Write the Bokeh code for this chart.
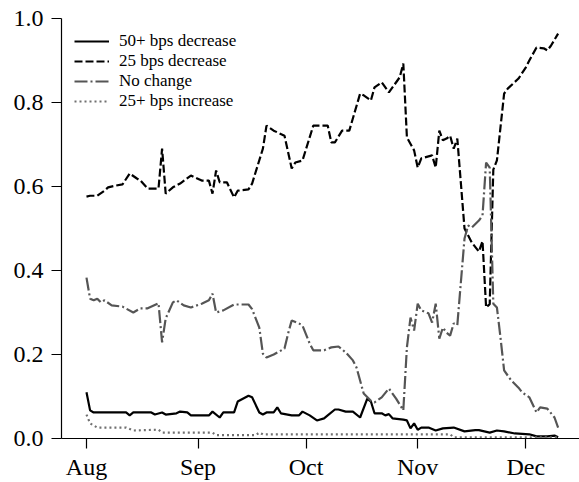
import pandas as pd
from bokeh.plotting import figure
from bokeh.models import (Range1d, FixedTicker, PrintfTickFormatter, MonthsTicker,
                          DatetimeTickFormatter, Legend, LegendItem)
from bokeh.embed import file_html
from bokeh.resources import INLINE

# Implied probabilities of the policy-rate outcome at the December meeting
cut50_dates = ["2024-08-01", "2024-08-02", "2024-08-03", "2024-08-12", "2024-08-13", "2024-08-14",
               "2024-08-19", "2024-08-20", "2024-08-22", "2024-08-23", "2024-08-26", "2024-08-27",
               "2024-08-29", "2024-08-30", "2024-09-04", "2024-09-05", "2024-09-07", "2024-09-08",
               "2024-09-11", "2024-09-12", "2024-09-15", "2024-09-16", "2024-09-18", "2024-09-19",
               "2024-09-20", "2024-09-22", "2024-09-23", "2024-09-24", "2024-09-27", "2024-09-29",
               "2024-09-30", "2024-10-02", "2024-10-04", "2024-10-06", "2024-10-07", "2024-10-09",
               "2024-10-10", "2024-10-12", "2024-10-14", "2024-10-16", "2024-10-18", "2024-10-19",
               "2024-10-20", "2024-10-22", "2024-10-23", "2024-10-24", "2024-10-25", "2024-10-28",
               "2024-10-29", "2024-10-30", "2024-10-31", "2024-11-01", "2024-11-02", "2024-11-04",
               "2024-11-06", "2024-11-08", "2024-11-11", "2024-11-14", "2024-11-17", "2024-11-18",
               "2024-11-21", "2024-11-23", "2024-11-25", "2024-11-28", "2024-12-02", "2024-12-04",
               "2024-12-07", "2024-12-09", "2024-12-10"]
cut50_prob = [0.110, 0.067, 0.062, 0.062, 0.055, 0.062,
              0.062, 0.057, 0.062, 0.057, 0.060, 0.064,
              0.062, 0.055, 0.055, 0.064, 0.050, 0.062,
              0.062, 0.088, 0.102, 0.098, 0.062, 0.057,
              0.062, 0.062, 0.074, 0.060, 0.055, 0.055,
              0.064, 0.055, 0.043, 0.048, 0.055, 0.069,
              0.069, 0.064, 0.064, 0.050, 0.095, 0.088,
              0.060, 0.060, 0.055, 0.058, 0.048, 0.045,
              0.043, 0.024, 0.036, 0.021, 0.026, 0.026,
              0.019, 0.024, 0.026, 0.017, 0.020, 0.020,
              0.014, 0.019, 0.017, 0.012, 0.010, 0.005,
              0.005, 0.007, 0.003]

cut25_dates = ["2024-08-01", "2024-08-02", "2024-08-04", "2024-08-06", "2024-08-07", "2024-08-09",
               "2024-08-11", "2024-08-13", "2024-08-15", "2024-08-16", "2024-08-18", "2024-08-21",
               "2024-08-22", "2024-08-23", "2024-08-25", "2024-08-27", "2024-08-30", "2024-09-02",
               "2024-09-04", "2024-09-05", "2024-09-06", "2024-09-07", "2024-09-09", "2024-09-11",
               "2024-09-12", "2024-09-15", "2024-09-16", "2024-09-19", "2024-09-20", "2024-09-22",
               "2024-09-25", "2024-09-27", "2024-09-28", "2024-09-30", "2024-10-03", "2024-10-07",
               "2024-10-08", "2024-10-09", "2024-10-11", "2024-10-13", "2024-10-16", "2024-10-17",
               "2024-10-19", "2024-10-20", "2024-10-22", "2024-10-24", "2024-10-27", "2024-10-28",
               "2024-10-29", "2024-10-31", "2024-11-01", "2024-11-02", "2024-11-05", "2024-11-06",
               "2024-11-07", "2024-11-08", "2024-11-09", "2024-11-10", "2024-11-11", "2024-11-12",
               "2024-11-14", "2024-11-16", "2024-11-18", "2024-11-19", "2024-11-20", "2024-11-21",
               "2024-11-22", "2024-11-23", "2024-11-25", "2024-11-26", "2024-11-29", "2024-12-01",
               "2024-12-02", "2024-12-04", "2024-12-06", "2024-12-07", "2024-12-08", "2024-12-10"]
cut25_prob = [0.576, 0.578, 0.578, 0.590, 0.598, 0.602,
              0.605, 0.631, 0.619, 0.614, 0.595, 0.595,
              0.690, 0.583, 0.598, 0.607, 0.626, 0.614,
              0.614, 0.583, 0.638, 0.610, 0.610, 0.574,
              0.590, 0.593, 0.607, 0.690, 0.745, 0.733,
              0.721, 0.643, 0.657, 0.662, 0.745, 0.745,
              0.705, 0.705, 0.733, 0.733, 0.821, 0.817,
              0.805, 0.836, 0.848, 0.824, 0.860, 0.893,
              0.717, 0.686, 0.645, 0.667, 0.674, 0.645,
              0.733, 0.710, 0.714, 0.721, 0.690, 0.714,
              0.500, 0.467, 0.445, 0.470, 0.312, 0.320,
              0.640, 0.662, 0.821, 0.833, 0.857, 0.883,
              0.900, 0.931, 0.929, 0.924, 0.935, 0.964]

hold_dates = ["2024-08-01", "2024-08-02", "2024-08-03", "2024-08-04", "2024-08-05", "2024-08-06",
              "2024-08-08", "2024-08-11", "2024-08-14", "2024-08-16", "2024-08-18", "2024-08-21",
              "2024-08-22", "2024-08-23", "2024-08-25", "2024-08-26", "2024-08-28", "2024-08-30",
              "2024-09-02", "2024-09-04", "2024-09-05", "2024-09-06", "2024-09-08", "2024-09-11",
              "2024-09-15", "2024-09-16", "2024-09-18", "2024-09-19", "2024-09-20", "2024-09-22",
              "2024-09-25", "2024-09-26", "2024-09-27", "2024-09-29", "2024-09-30", "2024-10-02",
              "2024-10-03", "2024-10-06", "2024-10-08", "2024-10-10", "2024-10-12", "2024-10-14",
              "2024-10-15", "2024-10-17", "2024-10-19", "2024-10-20", "2024-10-22", "2024-10-24",
              "2024-10-25", "2024-10-26", "2024-10-28", "2024-10-29", "2024-10-30", "2024-10-31",
              "2024-11-01", "2024-11-02", "2024-11-04", "2024-11-05", "2024-11-06", "2024-11-07",
              "2024-11-08", "2024-11-09", "2024-11-10", "2024-11-11", "2024-11-12", "2024-11-14",
              "2024-11-15", "2024-11-16", "2024-11-18", "2024-11-19", "2024-11-20", "2024-11-21",
              "2024-11-22", "2024-11-23", "2024-11-24", "2024-11-25", "2024-11-27", "2024-11-29",
              "2024-11-30", "2024-12-02", "2024-12-04", "2024-12-05", "2024-12-07", "2024-12-09",
              "2024-12-10"]
hold_prob = [0.383, 0.333, 0.329, 0.333, 0.324, 0.329,
             0.317, 0.314, 0.300, 0.310, 0.310, 0.322,
             0.229, 0.286, 0.324, 0.329, 0.317, 0.312,
             0.321, 0.329, 0.345, 0.300, 0.305, 0.319,
             0.319, 0.308, 0.264, 0.202, 0.193, 0.200,
             0.214, 0.250, 0.281, 0.274, 0.269, 0.226,
             0.210, 0.210, 0.217, 0.219, 0.205, 0.186,
             0.169, 0.107, 0.090, 0.086, 0.098, 0.119,
             0.107, 0.095, 0.067, 0.217, 0.288, 0.257,
             0.321, 0.305, 0.298, 0.276, 0.321, 0.238,
             0.264, 0.252, 0.245, 0.274, 0.270, 0.476,
             0.507, 0.502, 0.519, 0.531, 0.657, 0.645,
             0.321, 0.312, 0.240, 0.162, 0.138, 0.121,
             0.110, 0.098, 0.062, 0.074, 0.071, 0.050,
             0.026]

hike_dates = ["2024-08-01", "2024-08-02", "2024-08-04", "2024-08-12", "2024-08-14", "2024-08-21",
              "2024-08-22", "2024-09-05", "2024-09-06", "2024-09-17", "2024-09-18", "2024-09-19",
              "2024-11-10", "2024-11-11", "2024-12-10"]
hike_prob = [0.057, 0.036, 0.026, 0.026, 0.019, 0.021,
             0.014, 0.014, 0.008, 0.008, 0.014, 0.010,
             0.010, 0.003, 0.003]

series_labels = ["50+ bps decrease", "25 bps decrease", "No change", "25+ bps increase"]

SERIF = "'Liberation Serif', 'DejaVu Serif', serif"

start = pd.Timestamp("2024-08-01")
x_lo = start - pd.Timedelta(days=6.94)
x_hi = start + pd.Timedelta(days=136.94)

p = figure(width=579, height=482, x_axis_type="datetime",
           output_backend="svg", toolbar_location=None,
           x_range=Range1d(x_lo, x_hi), y_range=Range1d(0, 1.0),
           min_border_left=61, min_border_right=0,
           min_border_top=18, min_border_bottom=44)

p.xgrid.visible = False
p.ygrid.visible = False
p.outline_line_color = None
p.background_fill_color = "white"
p.border_fill_color = "white"

r50 = p.line(pd.to_datetime(cut50_dates), cut50_prob, line_color="black",
             line_width=2.2)
r25 = p.line(pd.to_datetime(cut25_dates), cut25_prob, line_color="black",
             line_width=2.2, line_dash="8 3")
r0 = p.line(pd.to_datetime(hold_dates), hold_prob, line_color="#555555",
            line_width=2.2, line_dash="13 3 2 3")
rh = p.line(pd.to_datetime(hike_dates), hike_prob, line_color="#707070",
            line_width=2.2, line_dash="2 3")

# axes
p.yaxis.ticker = FixedTicker(ticks=[0.0, 0.2, 0.4, 0.6, 0.8, 1.0])
p.yaxis.formatter = PrintfTickFormatter(format="%.1f")
p.xaxis.ticker = MonthsTicker(months=list(range(12)))
p.xaxis.formatter = DatetimeTickFormatter(months="%b", days="%b")

for ax in (p.xaxis, p.yaxis):
    ax.axis_line_color = "black"
    ax.axis_line_width = 1.2
    ax.major_tick_line_color = "black"
    ax.major_tick_line_width = 1.2
    ax.major_tick_out = 10
    ax.major_tick_in = 0
    ax.minor_tick_line_color = None
    ax.major_label_text_font = SERIF
    ax.major_label_text_font_size = "24px"
    ax.major_label_text_color = "black"
p.yaxis.major_label_standoff = 8
p.xaxis.major_label_standoff = 5

legend = Legend(items=[LegendItem(label=series_labels[0], renderers=[r50]),
                       LegendItem(label=series_labels[1], renderers=[r25]),
                       LegendItem(label=series_labels[2], renderers=[r0]),
                       LegendItem(label=series_labels[3], renderers=[rh])],
                location="top_left",
                border_line_alpha=0, background_fill_alpha=0,
                label_text_font=SERIF, label_text_font_size="17px",
                label_text_color="black",
                glyph_width=35, glyph_height=20, label_height=20,
                label_standoff=10, spacing=0, padding=10, margin=3)
p.add_layout(legend)

open("out.html", "w").write(file_html(p, INLINE))
